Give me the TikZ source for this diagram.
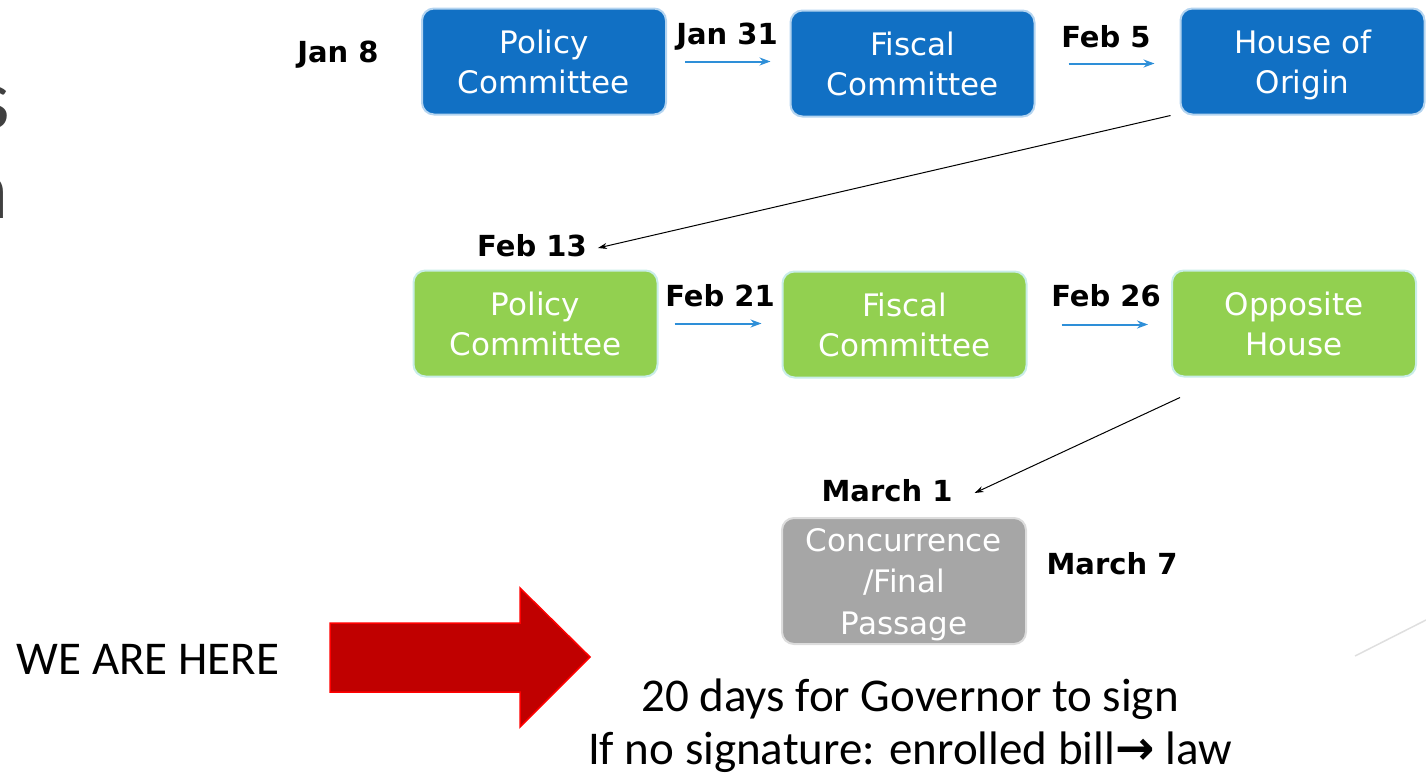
\documentclass[tikz,border=0pt]{standalone}
\usepackage{fontspec}
\setmainfont{DejaVu Sans}
\newfontfamily\calib{Carlito}
\usetikzlibrary{arrows.meta}
\definecolor{bblue}{HTML}{1170C4}
\definecolor{bbord}{HTML}{B4D4F0}
\definecolor{ggreen}{HTML}{92D050}
\definecolor{gbord}{HTML}{C8EDE8}
\definecolor{ggray}{HTML}{A6A6A6}
\definecolor{gyb}{HTML}{DCDCDC}
\definecolor{flowblue}{HTML}{2E8FD8}
\definecolor{redfill}{HTML}{C00000}
\definecolor{slidegray}{HTML}{404040}
\newcommand\nodp[1]{\raisebox{0pt}[\height][0pt]{#1}}
\tikzset{
  box/.style={rounded corners=12pt, minimum width=244pt, minimum height=106pt,
    text=white, font=\fontsize{31}{40}\selectfont, align=center, line width=2pt, inner sep=0pt},
  bluebox/.style={box, fill=bblue, draw=bbord},
  greenbox/.style={box, fill=ggreen, draw=gbord},
  graybox/.style={box, fill=ggray, draw=gyb, minimum height=126pt, font=\fontsize{31}{41.5}\selectfont},
  date/.style={font=\bfseries\fontsize{29}{34}\selectfont, inner sep=0pt},
  flow/.style={draw=flowblue, line width=2pt, -{Stealth[length=11pt,width=8pt]}},
  jump/.style={draw=black, line width=1pt, -{Stealth[length=9pt,width=6pt]}},
  caltext/.style={font=\calib\fontsize{47}{53}\selectfont, inner sep=0pt, align=center}
}
\begin{document}
\begin{tikzpicture}[x=1pt,y=-1pt]
\useasboundingbox (0,0) rectangle (1426,779);
\clip (0,0) rectangle (1426,779);
% cut-off slide text at the left edge
\node[font=\calib\fontsize{86}{90}\selectfont, text=slidegray, anchor=base east, inner sep=0pt] (ls) at (10,128) {s};
\node[font=\calib\fontsize{86}{90}\selectfont, text=slidegray, anchor=base east, inner sep=0pt] (ln) at (9,218) {n};
% row 1
\node[bluebox] (p1) at (544,61.5) {Policy\\Committee};
\node[bluebox] (f1) at (912.5,63.5) {Fiscal\\Committee};
\node[bluebox] (o1) at (1302.5,61.5) {House of\\\nodp{Origin}};
\node[date] (d8) at (338,55) {Jan 8};
\node[date] (d31) at (727,37) {Jan 31};
\node[date] (d5) at (1106,37) {Feb 5};
\draw[flow, shorten <=18pt, shorten >=19pt] (p1.east) -- (p1.east -| f1.west);
\draw[flow, shorten <=33pt, shorten >=25pt] (f1.east) -- (f1.east -| o1.west);
% row 2
\node[greenbox] (p2) at (535.5,323.5) {Policy\\Committee};
\node[greenbox] (f2) at (904.5,324.5) {Fiscal\\Committee};
\node[greenbox] (o2) at (1294,323.5) {Opposite\\House};
\node[date] (d13) at (532,246) {Feb 13};
\node[date] (d21) at (720,296) {Feb 21};
\node[date] (d26) at (1106,296) {Feb 26};
\draw[flow, shorten <=16pt, shorten >=20pt] (p2.east) -- (p2.east -| f2.west);
\draw[flow, shorten <=34pt, shorten >=23pt] (f2.east) -- (f2.east -| o2.west);
% jumps
\draw[jump] ([xshift=-9pt]o1.south west) -- ([xshift=11pt,yshift=-2pt]d13.east);
% row 3
\node[graybox] (c3) at (904,581) {Concurrence\\/Final\\\nodp{Passage}};
\node[date] (m1) at (887,491) {March 1};
\node[date] (m7) at (1112,564) {March 7};
\draw[jump] ([xshift=9pt,yshift=-20pt]o2.south west) -- ([xshift=22pt,yshift=-2pt]m1.east);
% red arrow
\draw[fill=redfill, draw=red, line width=1.5pt, line join=miter]
  (330,623) -- (520,623) -- (520,588) -- (590,657) -- (520,727) -- (520,692) -- (330,692) -- cycle;
\node[caltext] (here) at (148,659) {WE ARE HERE};
\node[caltext] (gov) at (910,726) {20 days for Governor to sign\\If no signature: enrolled bill{\normalfont\bfseries\fontsize{47}{53}\selectfont →} law};
% faint decorative line
\draw[gray!25, line width=1.5pt] (1355,656) -- (1426,620);
\end{tikzpicture}
\end{document}
